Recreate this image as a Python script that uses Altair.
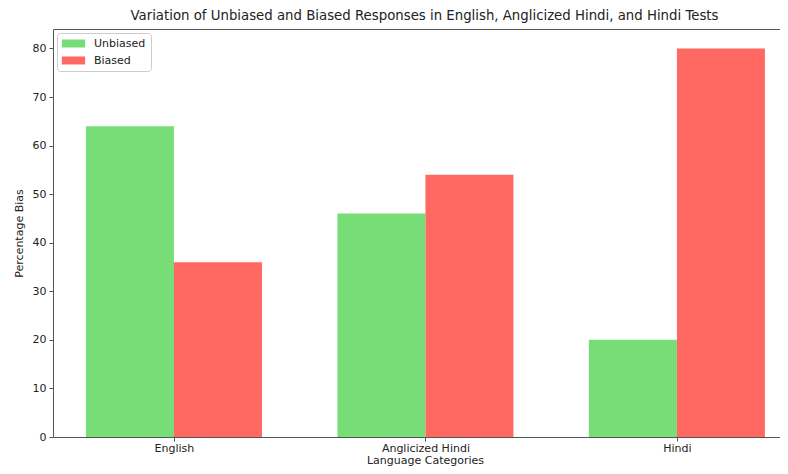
import altair as alt
import pandas as pd

categories = ["English", "Anglicized Hindi", "Hindi"]
unbiased = [64, 46, 20]
biased = [36, 54, 80]
series_names = ["Unbiased", "Biased"]
colors = ["#77dd77", "#ff6961"]
y_ticks = [0, 10, 20, 30, 40, 50, 60, 70, 80]

rows = []
for i, c in enumerate(categories):
    rows.append({"idx": i, "category": c, "series": "Unbiased", "value": unbiased[i]})
    rows.append({"idx": i, "category": c, "series": "Biased", "value": biased[i]})
df = pd.DataFrame(rows)

bar_w = 0.35
label_expr = "[" + ",".join("'" + c + "'" for c in categories) + "][datum.value]"

FONT = "DejaVu Sans"
TXT = "#222222"
SPINE = "#555555"

x_scale = alt.Scale(domain=[-0.481, 2.410], nice=False, zero=False)

bars = alt.Chart(df).transform_calculate(
    x0=f"datum.idx + (datum.series == 'Unbiased' ? -{bar_w} : 0)",
).transform_calculate(
    x1=f"datum.x0 + {bar_w}"
).mark_bar(strokeWidth=0).encode(
    x=alt.X("x0:Q", scale=x_scale,
            axis=alt.Axis(values=[0, 1, 2], labelExpr=label_expr, title="Language Categories",
                          grid=False, tickSize=4, labelPadding=1,
                          titleX=372, titleY=26, titleBaseline="alphabetic")),
    x2="x1:Q",
    y=alt.Y("value:Q",
            scale=alt.Scale(domain=[0, 84], nice=False),
            axis=alt.Axis(values=y_ticks, title="Percentage Bias", grid=False,
                          tickSize=4, labelPadding=3, titlePadding=8)),
    y2=alt.datum(0),
    color=alt.Color("series:N",
                    scale=alt.Scale(domain=series_names, range=colors),
                    sort=series_names,
                    legend=alt.Legend(title=None, orient="top-left", offset=4,
                                      symbolType="M-2.9,-1H2.9V1H-2.9Z",
                                      symbolSize=64, symbolStrokeWidth=0,
                                      symbolOffset=6, labelOffset=15,
                                      fillColor="white", strokeColor="#cccccc",
                                      cornerRadius=3, padding=5, rowPadding=5,
                                      labelFontSize=11, labelFont=FONT, labelColor=TXT)),
)

top_spine = alt.Chart(df).mark_rule(opacity=0).encode(
    x=alt.X("idx:Q", scale=x_scale,
            axis=alt.Axis(orient="top", labels=False, ticks=False, domain=True,
                          grid=False, title=None)),
)

chart = alt.layer(bars, top_spine).resolve_axis(x="independent").properties(
    width=727,
    height=408,
    autosize=alt.AutoSizeParams(type="none"),
    padding={"left": 45, "top": 21, "right": 0, "bottom": 29},
    title=alt.TitleParams("Variation of Unbiased and Biased Responses in English, Anglicized Hindi, and Hindi Tests",
                          fontSize=13.3, font=FONT, fontWeight="normal", color=TXT,
                          anchor="middle", dx=8, offset=7),
).configure_view(
    stroke=None
).configure_axis(
    domainColor=SPINE, tickColor=SPINE, labelFont=FONT, titleFont=FONT,
    labelFontSize=11, titleFontSize=11, labelColor=TXT, titleColor=TXT,
    titleFontWeight="normal"
)

chart.save("out.html", embed_options={"renderer": "svg", "actions": False})
